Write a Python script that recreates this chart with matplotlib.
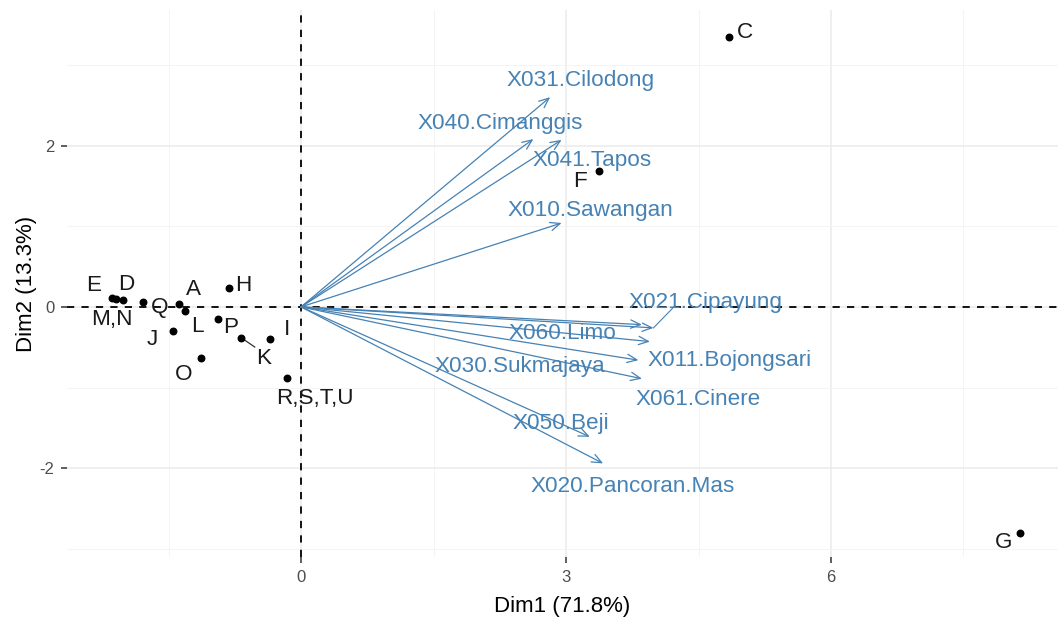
import matplotlib
matplotlib.use('Agg')
import matplotlib.pyplot as plt

plt.rcParams['font.family'] = ['Liberation Sans', 'DejaVu Sans']
plt.rcParams['axes.unicode_minus'] = False

# individuals (PCA scores)
ind_names = ["E", "D", "M,N", "Q", "A", "L", "H", "P", "J", "O", "K", "I",
             "R,S,T,U", "C", "G", "F"]
ind_x = [-2.14, -2.10, -2.02, -1.79, -1.38, -1.31, -0.81, -0.94, -1.45, -1.13,
         -0.68, -0.35, -0.16, 4.84, 8.14, 3.37]
ind_y = [0.11, 0.10, 0.09, 0.06, 0.03, -0.05, 0.24, -0.15, -0.30, -0.63,
         -0.38, -0.40, -0.88, 3.34, -2.80, 1.68]

# variables (loadings, scaled)
var_names = ["X031.Cilodong", "X040.Cimanggis", "X041.Tapos", "X010.Sawangan",
             "X021.Cipayung", "X060.Limo", "X030.Sukmajaya", "X011.Bojongsari",
             "X061.Cinere", "X050.Beji", "X020.Pancoran.Mas"]
var_x = [2.82, 2.63, 2.95, 2.95, 3.99, 3.86, 3.95, 3.82, 3.86, 3.27, 3.42]
var_y = [2.60, 2.08, 2.07, 1.04, -0.26, -0.22, -0.43, -0.66, -0.89, -1.61, -1.94]

# label offsets (repelled text placement), in data units
ind_off = {"E": (-0.21, 0.15), "D": (0.12, 0.18), "M,N": (-0.12, -0.25),
           "Q": (0.19, -0.07), "A": (0.16, 0.18), "L": (0.14, -0.19),
           "H": (0.16, 0.03), "P": (0.14, -0.11), "J": (-0.23, -0.11),
           "O": (-0.20, -0.21), "K": (0.26, -0.26), "I": (0.19, 0.12),
           "R,S,T,U": (0.32, -0.25), "C": (0.19, 0.06), "G": (-0.19, -0.12),
           "F": (-0.21, -0.13)}
var_lab = {"X031.Cilodong": (3.16, 2.81), "X040.Cimanggis": (2.25, 2.27),
           "X041.Tapos": (3.30, 1.82), "X010.Sawangan": (3.28, 1.20),
           "X021.Cipayung": (4.58, 0.06), "X060.Limo": (2.96, -0.33),
           "X030.Sukmajaya": (2.48, -0.74), "X011.Bojongsari": (4.85, -0.66),
           "X061.Cinere": (4.50, -1.15), "X050.Beji": (2.94, -1.44),
           "X020.Pancoran.Mas": (3.75, -2.22)}

BLUE = "#4682B4"


def main():
    fig = plt.figure(figsize=(10.58, 6.17), dpi=100)
    ax = fig.add_axes([0.0633, 0.0972, 0.9367, 0.8866])

    ax.set_xlim(-2.65, 8.57)
    ax.set_ylim(-3.10, 3.68)

    ax.set_xticks([0, 3, 6])
    ax.set_xticks([-1.5, 1.5, 4.5, 7.5], minor=True)
    ax.set_yticks([-2, 0, 2])
    ax.set_yticks([-3, -1, 1, 3], minor=True)
    ax.grid(True, which='major', color='#EBEBEB', lw=1.1)
    ax.grid(True, which='minor', color='#F3F3F3', lw=0.6)
    ax.set_axisbelow(True)
    for s in ax.spines.values():
        s.set_visible(False)
    ax.tick_params(which='major', length=4, width=1.1, color='#333333',
                   labelsize=12, labelcolor='#4D4D4D', pad=5)
    ax.tick_params(which='minor', length=0)

    ax.axhline(0, color='black', ls=(0, (4, 4)), lw=1.3, zorder=1)
    ax.axvline(0, color='black', ls=(0, (4, 4)), lw=1.3, zorder=1)

    # variable arrows
    for name, x, y in zip(var_names, var_x, var_y):
        ax.annotate("", xy=(x, y), xytext=(0, 0),
                    arrowprops=dict(arrowstyle='->,head_length=0.7,head_width=0.3',
                                    color=BLUE, lw=0.9, shrinkA=0, shrinkB=0),
                    zorder=2)
        lx, ly = var_lab[name]
        if name == "X021.Cipayung":
            ax.plot([x, lx - 0.35], [y, ly - 0.05], color=BLUE, lw=0.8, zorder=2)
        ax.text(lx, ly, name, color=BLUE, fontsize=16.2, ha='center',
                va='center', zorder=3)

    # individuals
    ax.scatter(ind_x, ind_y, s=22, color='black', zorder=4)
    for name, x, y in zip(ind_names, ind_x, ind_y):
        dx, dy = ind_off[name]
        if name == "K":
            ax.plot([x, x + dx * 0.6], [y, y + dy * 0.45], color='#333333',
                    lw=0.9, zorder=3)
        ax.text(x + dx, y + dy, name, color='#1A1A1A', fontsize=16.2,
                ha='center', va='center', zorder=5)

    ax.set_xlabel("Dim1 (71.8%)", fontsize=16, color='black', labelpad=8)
    ax.set_ylabel("Dim2 (13.3%)", fontsize=16, color='black', labelpad=2)

    fig.savefig("out.png", dpi=100)
    plt.close(fig)


if __name__ == "__main__":
    main()
